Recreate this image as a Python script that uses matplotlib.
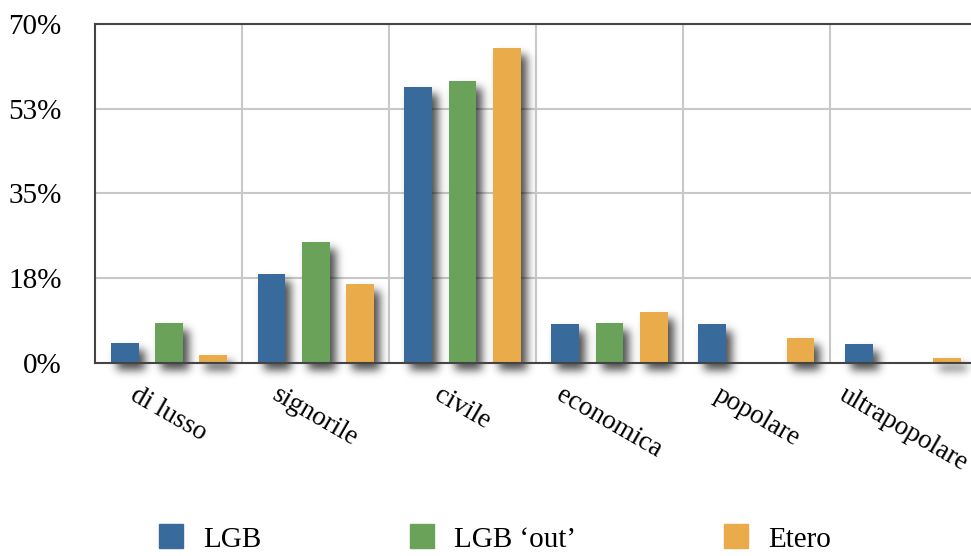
import numpy as np
import matplotlib.pyplot as plt
from matplotlib.lines import Line2D

plt.rcParams["font.family"] = ["Liberation Serif", "DejaVu Serif"]

#%%
# dati
categorie = ["di lusso", "signorile", "civile", "economica", "popolare", "ultrapopolare"]
lgb = [4.1, 18.4, 57.0, 8.1, 8.1, 3.9]
lgb_out = [8.3, 25.0, 58.2, 8.3, 0.0, 0.0]
etero = [1.7, 16.3, 65.1, 10.5, 5.2, 1.0]

serie_nomi = ["LGB", "LGB \u2018out\u2019", "Etero"]
colori = ["#386a9b", "#6ba25a", "#eaab4a"]

yticks = [0, 17.5, 35, 52.5, 70]
ytick_labels = ["0%", "18%", "35%", "53%", "70%"]


#%%
# filtro per l'ombra sfumata (sposta e sfoca il canale alpha)
def ombra_filter(im, dpi, sigma=4.5, dx=6, dy=7, alpha=0.7):
    pad = 28
    a = np.pad(im[:, :, 3], pad)
    r = int(3 * sigma)
    k = np.exp(-0.5 * (np.arange(-r, r + 1) / sigma) ** 2)
    k = k / k.sum()
    b = np.zeros_like(a)
    for i, w in enumerate(k):
        b += w * np.roll(a, i - r, axis=0)
    c = np.zeros_like(b)
    for i, w in enumerate(k):
        c += w * np.roll(b, i - r, axis=1)
    c = np.roll(np.roll(c, dy, axis=0), dx, axis=1)
    out = np.zeros(c.shape + (4,), dtype=im.dtype)
    out[:, :, 3] = np.clip(c * alpha, 0, 1)
    return out, -pad, -pad


#%%
fig = plt.figure(figsize=(9.71, 5.56), dpi=100)
ax = fig.add_axes([0.098, 0.347, 0.908, 0.610])

x = np.arange(len(categorie))
width = 0.19
offsets = [-0.30, 0.0, 0.30]

for serie, col, off in zip([lgb, lgb_out, etero], colori, offsets):
    ombre = ax.bar(x + off, serie, width, color="black", zorder=2, clip_on=False)
    for b, v in zip(ombre, serie):
        if v > 0:
            b.set_agg_filter(ombra_filter)
        else:
            b.set_visible(False)
    ax.bar(x + off, serie, width, color=col, zorder=3)

ax.set_xlim(-0.5, 5.5)
ax.set_ylim(0, 70)
ax.set_yticks(yticks)
ax.set_yticklabels(ytick_labels, fontsize=21)
ax.set_xticks(x)
ax.set_xticklabels(categorie, fontsize=19.5, rotation=-30, ha="center", va="top")
ax.tick_params(axis="both", length=0)
ax.tick_params(axis="y", pad=24)
ax.tick_params(axis="x", pad=14)

# griglia
for xv in np.arange(0.5, 5.5, 1.0):
    ax.axvline(xv, color="#c8c8c8", linewidth=1.5, zorder=1)
for yv in yticks[1:-1]:
    ax.axhline(yv, color="#c8c8c8", linewidth=1.5, zorder=1)

for s in ["left", "top", "bottom"]:
    ax.spines[s].set_color("#444444")
    ax.spines[s].set_linewidth(1.5)
ax.spines["bottom"].set_zorder(4)
ax.spines["right"].set_visible(False)

handles = [Line2D([0], [0], marker="s", linestyle="", markersize=17, color=c)
           for c in colori]
fig.legend(handles, serie_nomi, loc="center", bbox_to_anchor=(0.51, 0.03),
           ncol=3, frameon=False, fontsize=21, columnspacing=5.1,
           handlelength=0.8, handletextpad=0.7, borderpad=0.1)

fig.savefig("out.png", dpi=100)
